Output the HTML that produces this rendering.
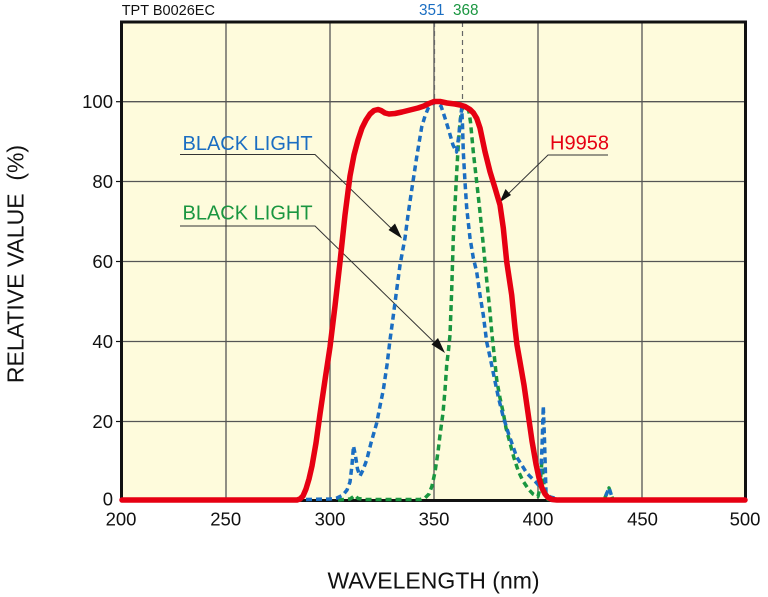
<!DOCTYPE html>
<html><head><meta charset="utf-8"><style>
html,body{margin:0;padding:0;background:#fff;}
svg{display:block;}
text{font-family:"Liberation Sans",Arial,sans-serif;}
</style></head><body>
<svg width="768" height="597" viewBox="0 0 768 597" xmlns="http://www.w3.org/2000/svg">
<rect x="121.5" y="22" width="624" height="478.5" fill="#fefbdc"/>
<g stroke="#555" stroke-width="1.3" fill="none">
<line x1="226" y1="22" x2="226" y2="500"/>
<line x1="330" y1="22" x2="330" y2="500"/>
<line x1="434" y1="22" x2="434" y2="500"/>
<line x1="538" y1="22" x2="538" y2="500"/>
<line x1="642" y1="22" x2="642" y2="500"/>
<line x1="121.5" y1="101.7" x2="745.5" y2="101.7"/>
<line x1="121.5" y1="181.5" x2="745.5" y2="181.5"/>
<line x1="121.5" y1="261.5" x2="745.5" y2="261.5"/>
<line x1="121.5" y1="341.5" x2="745.5" y2="341.5"/>
<line x1="121.5" y1="421.5" x2="745.5" y2="421.5"/>
</g>
<g stroke="#666" stroke-width="1.2" stroke-dasharray="5 4" fill="none">
<line x1="434.5" y1="22" x2="434.5" y2="105"/>
<line x1="462.5" y1="22" x2="462.5" y2="112"/>
</g>
<rect x="121.5" y="22" width="624" height="478.5" fill="none" stroke="#111" stroke-width="3"/>
<g stroke="#111" stroke-width="1.2">
<line x1="116" y1="101.7" x2="121" y2="101.7"/>
<line x1="116" y1="181.5" x2="121" y2="181.5"/>
<line x1="116" y1="261.5" x2="121" y2="261.5"/>
<line x1="116" y1="341.5" x2="121" y2="341.5"/>
<line x1="116" y1="421.5" x2="121" y2="421.5"/>
</g>
<!-- annotation lines -->
<g stroke="#333" stroke-width="1" fill="none">
<polyline points="180,154.5 315,154.5 396,233"/>
<polyline points="180,226 315,226 439,347"/>
<polyline points="608,155 548,155 505,197"/>
</g>
<g fill="#111">
<polygon points="402,238.5 388.5,230 395,223.5"/>
<polygon points="445,353 431.5,344.5 438,338"/>
<polygon points="499.5,202.5 505.5,189 511,195"/>
</g>
<!-- green dashed -->
<polyline fill="none" stroke="#1a9640" stroke-width="3.5" stroke-dasharray="6 4" stroke-linejoin="round" points="338,500 350,499 353,497 355,495.5 358,498.5 365,499.5 420,499.5 425,498 429,494 432,486 435,472 438,452 440,435 443,413 445,390 446.7,365 448.5,350 450,335 451.7,290 453.3,238 455,205 456.7,172 458.3,145 460,122 461.7,110 464,106.5 467,106.5 469,112 470.5,122 473.3,152 476.7,182 480,212 483.3,245 486.7,280 490,312 492,335 494.5,358 496.7,380 500,398 503.3,413 506,428 510,443 514,458 518.3,471 523,481 528.3,489 533,494 538,496.5 540,488 541.7,463 543,476 545,493 548,499.5 604,500 609,488 613,500 745,500"/>
<!-- blue dashed -->
<polyline fill="none" stroke="#1b6ec2" stroke-width="3.5" stroke-dasharray="6 4" stroke-linejoin="round" points="306,499.5 330,499 337,498 343,495 347,490 350,482 352,465 353.5,446 355.5,456 357.5,469 360,476 363,470 366.7,460 371,443 376.7,423 380,406 383.3,390 387,365 390,340 393,318 396,295 400,265 405,238 408,215 411.7,190 416.7,157 421.7,127 425,116 428.3,108 434.3,101.7 438,103.5 441,106 445,118 449,131 453,145 456.5,152 458.5,138 460,124 461.7,108 462.5,125 463.3,152 465,182 466.7,208 470,238 473.3,258 476.7,272 480,295 483.3,315 486.7,342 490,357 493.3,373 498.3,397 503.3,417 508.3,433 516.7,457 526.7,473 536.7,483 540,487 542,448 543.3,406 544.5,440 546,493 550,497 556.7,498.5 562,500 604,500 609,488 613,500 745,500"/>
<!-- red -->
<polyline fill="none" stroke="#e60012" stroke-width="5.5" stroke-linejoin="round" stroke-linecap="round" points="122,500 297,500 300,499 303,496 306,489 309,479 312,466 316,443 320,414 325,380 330,347 335,306 340,262 345,215 350,176 354,155 358,140 362,128 366,120 370,114 374,110.5 378,109.5 381,110.5 385,113 389,114 395,113.5 402,112 410,110 418,108 424,106 429,103.5 434,101.5 440,101.5 447,103 455,104 460,105 465,106.5 470,109.5 473.5,113 476.7,118.3 480,128 485,151.7 490,171.7 495,188 500,205 503.3,228 506.7,261.7 511.7,295 515,328 517,345 520,362 524,385 528,413 532,441 536,464 539,478 542,488 545,494 548,497.5 552,499.5 557,500 745,500"/>
<!-- labels -->
<text x="121.7" y="15" font-size="14.5" fill="#111">TPT B0026EC</text>
<text x="419" y="15" font-size="15.3" fill="#1b6ec2">351</text>
<text x="453" y="15" font-size="15.3" fill="#1a9640">368</text>
<text x="182.5" y="150" font-size="20" fill="#1b6ec2">BLACK LIGHT</text>
<text x="182.5" y="219.5" font-size="20" fill="#1a9640">BLACK LIGHT</text>
<text x="550" y="149.5" font-size="20" fill="#e60012">H9958</text>
<g font-size="18.5" fill="#111" text-anchor="end">
<text x="113" y="108.2">100</text>
<text x="113" y="188">80</text>
<text x="113" y="268">60</text>
<text x="113" y="348">40</text>
<text x="113" y="428">20</text>
<text x="113" y="505.5">0</text>
</g>
<g font-size="18.5" fill="#111" text-anchor="middle">
<text x="121" y="525.5">200</text>
<text x="225.7" y="525.5">250</text>
<text x="330" y="525.5">300</text>
<text x="434" y="525.5">350</text>
<text x="538" y="525.5">400</text>
<text x="642.5" y="525.5">450</text>
<text x="745" y="525.5">500</text>
</g>
<text x="433.5" y="588.5" font-size="23" fill="#111" text-anchor="middle">WAVELENGTH (nm)</text>
<text x="23.3" y="264" font-size="23" fill="#111" text-anchor="middle" transform="rotate(-90 23.3 264)" xml:space="preserve">RELATIVE VALUE  (%)</text>
</svg>
</body></html>
